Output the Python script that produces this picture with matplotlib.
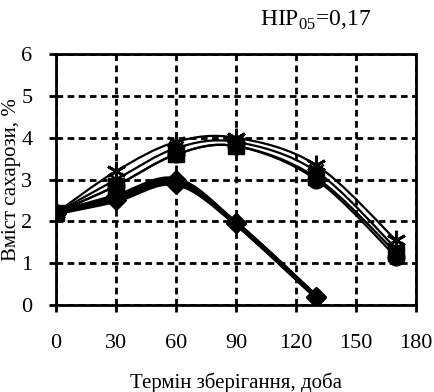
import numpy as np
import matplotlib
matplotlib.use('Agg')
import matplotlib.pyplot as plt
from matplotlib.path import Path
from matplotlib.patches import PathPatch

days = [0, 30, 60, 90, 130, 170]
star_vals = [2.2, 3.2, 3.9, 4.0, 3.35, 1.55]
thin_vals = [2.2, 3.0, 3.75, 3.9, 3.2, 1.35]
square_vals = [2.2, 2.85, 3.6, 3.8, 3.05, 1.25]
circle_vals = [2.2, 2.85, 3.6, 3.8, 3.0, 1.15]

days_short = [0, 30, 60, 90, 130]
diamond_vals = [2.2, 2.5, 2.9, 1.95, 0.2]
triangle_vals = [2.2, 2.6, 3.0, 1.95, 0.2]

x_ticks = [0, 30, 60, 90, 120, 150, 180]
y_ticks = [0, 1, 2, 3, 4, 5, 6]


def smooth_path(xs, ys):
    # excel-like smoothed line: catmull-rom as cubic bezier segments
    pts = np.column_stack([xs, ys]).astype(float)
    n = len(pts)
    verts = [pts[0]]
    codes = [Path.MOVETO]
    for i in range(n - 1):
        p0 = pts[i - 1] if i > 0 else pts[i]
        p1 = pts[i]
        p2 = pts[i + 1]
        p3 = pts[i + 2] if i + 2 < n else pts[i + 1]
        c1 = p1 + (p2 - p0) / 6.0
        c2 = p2 - (p3 - p1) / 6.0
        verts += [c1, c2, p2]
        codes += [Path.CURVE4] * 3
    return Path(verts, codes)


def curve(ax, xs, ys, lw):
    patch = PathPatch(smooth_path(xs, ys), fill=False, edgecolor='black',
                      linewidth=lw, capstyle='round', joinstyle='round', zorder=3)
    ax.add_patch(patch)


plt.rcParams['font.family'] = ['Liberation Serif', 'DejaVu Serif']
plt.rcParams['mathtext.fontset'] = 'custom'
plt.rcParams['mathtext.rm'] = 'Liberation Serif'

fig = plt.figure(figsize=(4.34, 3.92), dpi=100)
ax = fig.add_axes([0.129, 0.222, 0.8295, 0.640])

curve(ax, days_short, triangle_vals, 3.5)
curve(ax, days_short, diamond_vals, 3.5)
curve(ax, days, circle_vals, 1.6)
curve(ax, days, square_vals, 1.6)
curve(ax, days, thin_vals, 1.6)
curve(ax, days, star_vals, 1.6)

ax.plot(days_short, triangle_vals, linestyle='none', marker='D', markersize=10,
        color='black', zorder=4)
ax.plot(days_short, diamond_vals, linestyle='none', marker='D', markersize=10,
        color='black', zorder=4)
ax.plot(days, circle_vals, linestyle='none', marker='o', markersize=12,
        color='black', zorder=4)
ax.plot(days, square_vals, linestyle='none', marker='s', markersize=12,
        color='black', zorder=4)
ax.plot(days, thin_vals, linestyle='none', marker='x', markersize=10,
        markeredgewidth=2, color='black', zorder=4)
ax.plot(days, star_vals, linestyle='none', marker=(6, 2, 0), markersize=14,
        markeredgewidth=2, color='black', zorder=4)

ax.set_xlim(0, 180)
ax.set_ylim(0, 6)
ax.set_xticks(x_ticks)
ax.set_yticks(y_ticks)
ax.grid(True, color='black', linestyle=(0, (2.4, 1.6)), linewidth=2)
ax.set_axisbelow(False)
for sp in ax.spines.values():
    sp.set_linewidth(2)
ax.tick_params(direction='out', length=5, width=2, labelsize=16)
ax.tick_params(axis='x', pad=16)
ax.tick_params(axis='y', pad=12)

ax.set_xlabel('Термін зберігання, доба', fontsize=15, labelpad=14)
ax.set_ylabel('Вміст сахарози, %', fontsize=15, labelpad=0)
fig.text(0.728, 0.948, r'НІР$_{\mathrm{05}}$=0,17', fontsize=17,
         ha='center', va='center')

fig.savefig('out.png', dpi=100)
